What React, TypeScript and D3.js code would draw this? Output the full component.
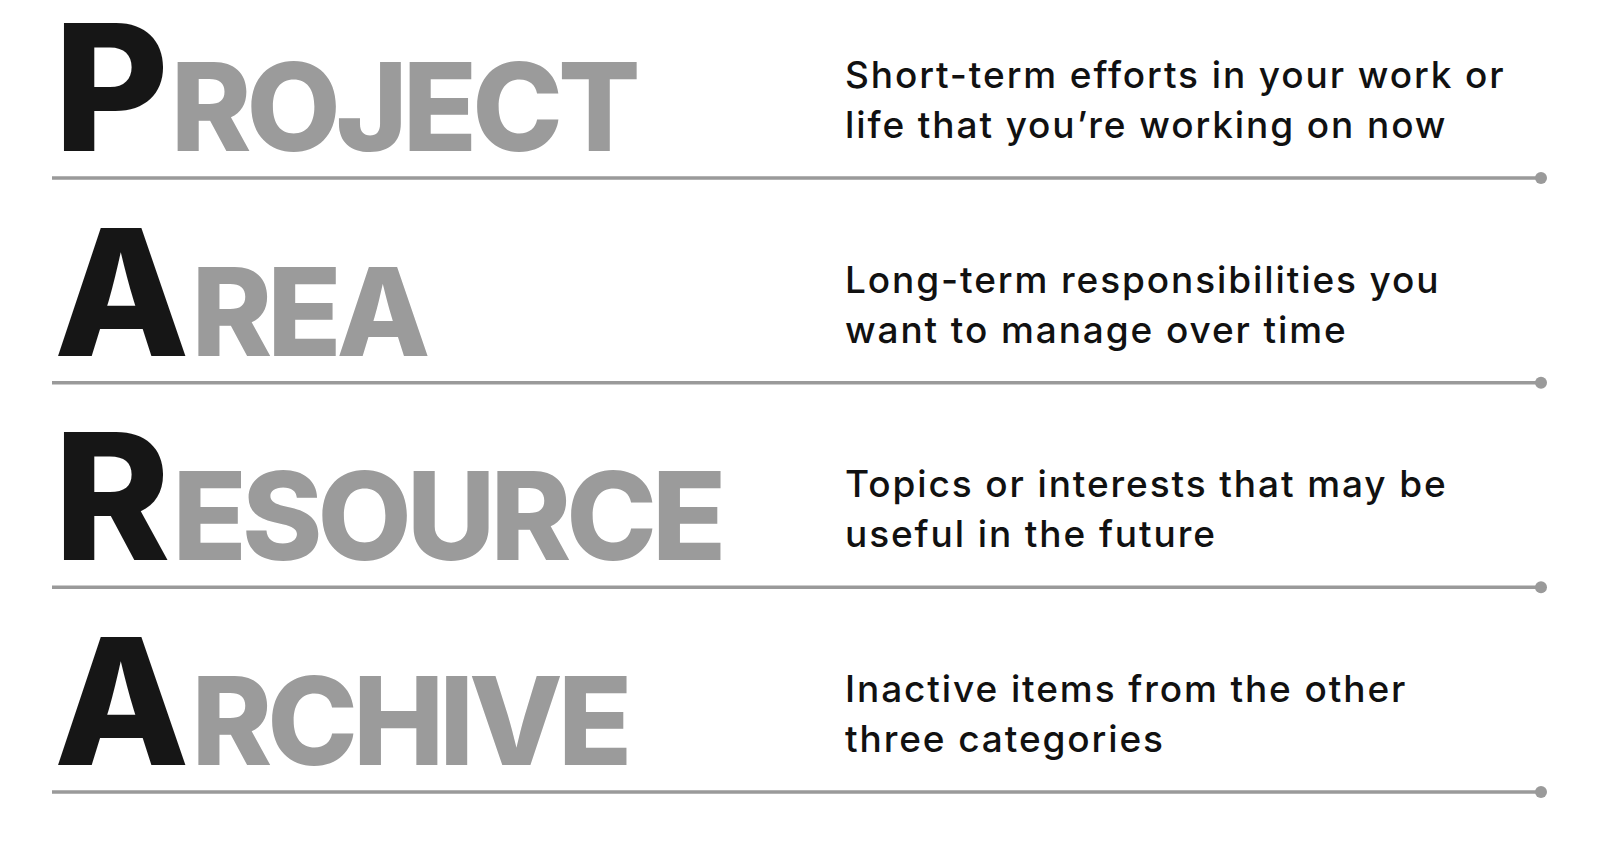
import { scaleLinear } from "d3";

const initials = ["P", "A", "R", "A"];
const rests = ["ROJECT", "REA", "ESOURCE", "RCHIVE"];
const descLine1 = [
  "Short-term efforts in your work or",
  "Long-term responsibilities you",
  "Topics or interests that may be",
  "Inactive items from the other",
];
const descLine2 = [
  "life that you’re working on now",
  "want to manage over time",
  "useful in the future",
  "three categories",
];

const W = 1618;
const H = 846;
const FONT = "Inter, 'Open Sans', sans-serif";

// row index -> y of separator line
const yLine = scaleLinear().domain([0, 3]).range([178, 792]);

export default function App() {
  return (
    <svg
      width={W}
      height={H}
      style={{ position: "absolute", left: 0, top: 0, background: "#fff" }}
    >
      {initials.map((ch, i) => {
        const yl = yLine(i);
        const base = yl - 27;
        return (
          <g key={i}>
            <text x={54} y={base} fontFamily={FONT} fontWeight={800} fontSize={176} fill="#161616">
              {ch}
              <tspan fontSize={122} fill="#9b9b9b" dx={2} letterSpacing={-5}>{rests[i]}</tspan>
            </text>
            <text x={845} y={yl - 90} fontFamily={FONT} fontWeight={500} fontSize={37} letterSpacing={1.9} fill="#111">
              {descLine1[i]}
            </text>
            <text x={845} y={yl - 40} fontFamily={FONT} fontWeight={500} fontSize={37} letterSpacing={1.9} fill="#111">
              {descLine2[i]}
            </text>
            <line x1={52} x2={1540} y1={yl} y2={yl} stroke="#9a9a9a" strokeWidth={3.5} />
            <circle cx={1541} cy={yl} r={6} fill="#9a9a9a" />
          </g>
        );
      })}
    </svg>
  );
}
